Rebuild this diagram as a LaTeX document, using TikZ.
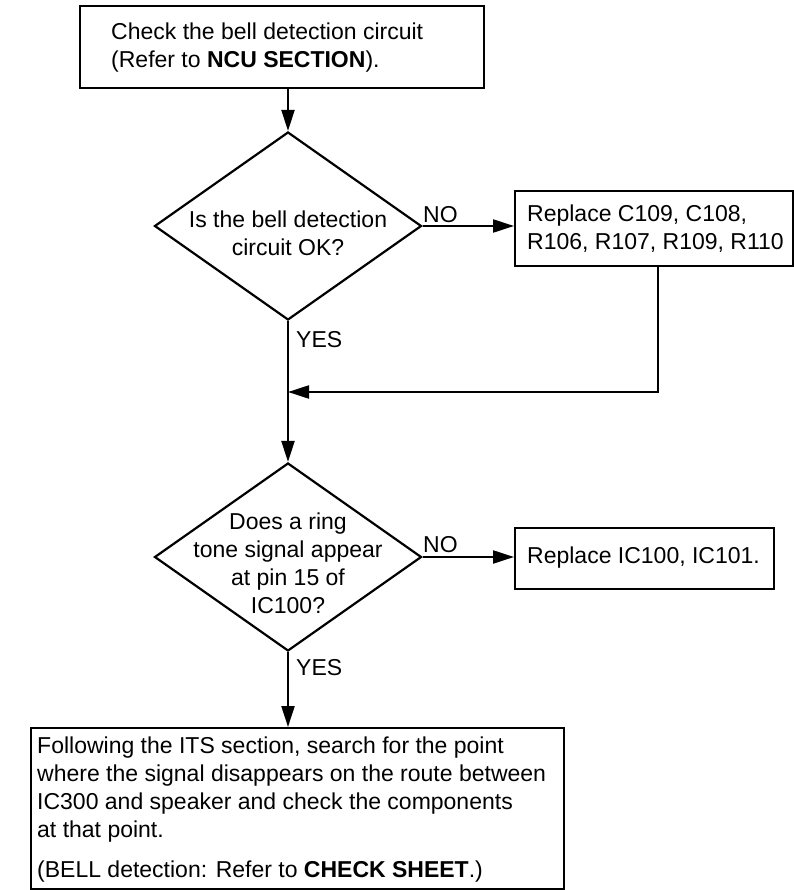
\documentclass[tikz,border=0pt]{standalone}
\usepackage{fontspec}
\setmainfont{Liberation Sans}
\usetikzlibrary{shapes.geometric,arrows.meta}
\begin{document}
\begin{tikzpicture}[x=1pt,y=-1pt,
  every node/.style={font=\fontsize{23}{28}\selectfont},
  box/.style={draw,line width=2.2pt,inner sep=0pt,anchor=north west},
  dia/.style={draw,shape=diamond,line width=2.2pt,inner sep=0pt,minimum width=267pt,minimum height=188pt},
  txt/.style={inner sep=0pt,align=left,anchor=west},
  lbl/.style={inner sep=0pt,anchor=south west},
  conn/.style={line width=2.2pt},
  arr/.style={conn,-{Triangle[length=21pt,width=13pt]}}]
\useasboundingbox (0,0) rectangle (793,890);
% boxes
\node[box,minimum width=404pt,minimum height=82pt] (top) at (79,5) {};
\node[txt] (toptxt) at (111,48) {Check the bell detection circuit\\(Refer to \textbf{NCU SECTION}).};
\node[dia] (d1) at (288,226) {};
\node[inner sep=0pt,align=center] (d1txt) at (288,233) {Is the bell detection\\circuit OK?};
\node[box,minimum width=278pt,minimum height=75pt] (r1) at (514,190) {};
\node[txt] (r1txt) at (527,229) {Replace C109, C108,\\R106, R107, R109, R110};
\node[dia] (d2) at (288,557) {};
\node[inner sep=0pt,align=center] (d2txt) at (288,563) {Does a ring\\tone signal appear\\at pin 15 of\\IC100?};
\node[box,minimum width=259pt,minimum height=61pt] (r2) at (514,527) {};
\node[txt] (r2txt) at (527,558) {Replace IC100, IC101.};
\node[box,minimum width=533pt,minimum height=161pt] (bot) at (30,727) {};
\node[txt,anchor=north west] (bottxt) at (37,737) {Following the ITS section, search for the point\\where the signal disappears on the route between\\IC300 and speaker and check the components\\at that point.\\[12pt](BELL detection: Refer to \textbf{CHECK SHEET}.)};
% labels
\node[lbl] (no1) at (423,223) {NO};
\node[lbl] (yes1) at (296,348) {YES};
\node[lbl] (no2) at (423,553) {NO};
\node[lbl] (yes2) at (296,676) {YES};
% connectors
\coordinate (r1b) at (658,265);
\coordinate (join) at (288,392);
\draw[arr] (top.south -| d1.north) -- (d1.north);
\draw[arr] (d1.east) -- (d1.east -| r1.west);
\draw[arr] (d1.south) -- (d2.north);
\draw[arr] (r1b) |- (join);
\draw[arr] (d2.east) -- (d2.east -| r2.west);
\draw[arr] (d2.south) -- (d2.south |- bot.north);
\end{tikzpicture}
\end{document}
